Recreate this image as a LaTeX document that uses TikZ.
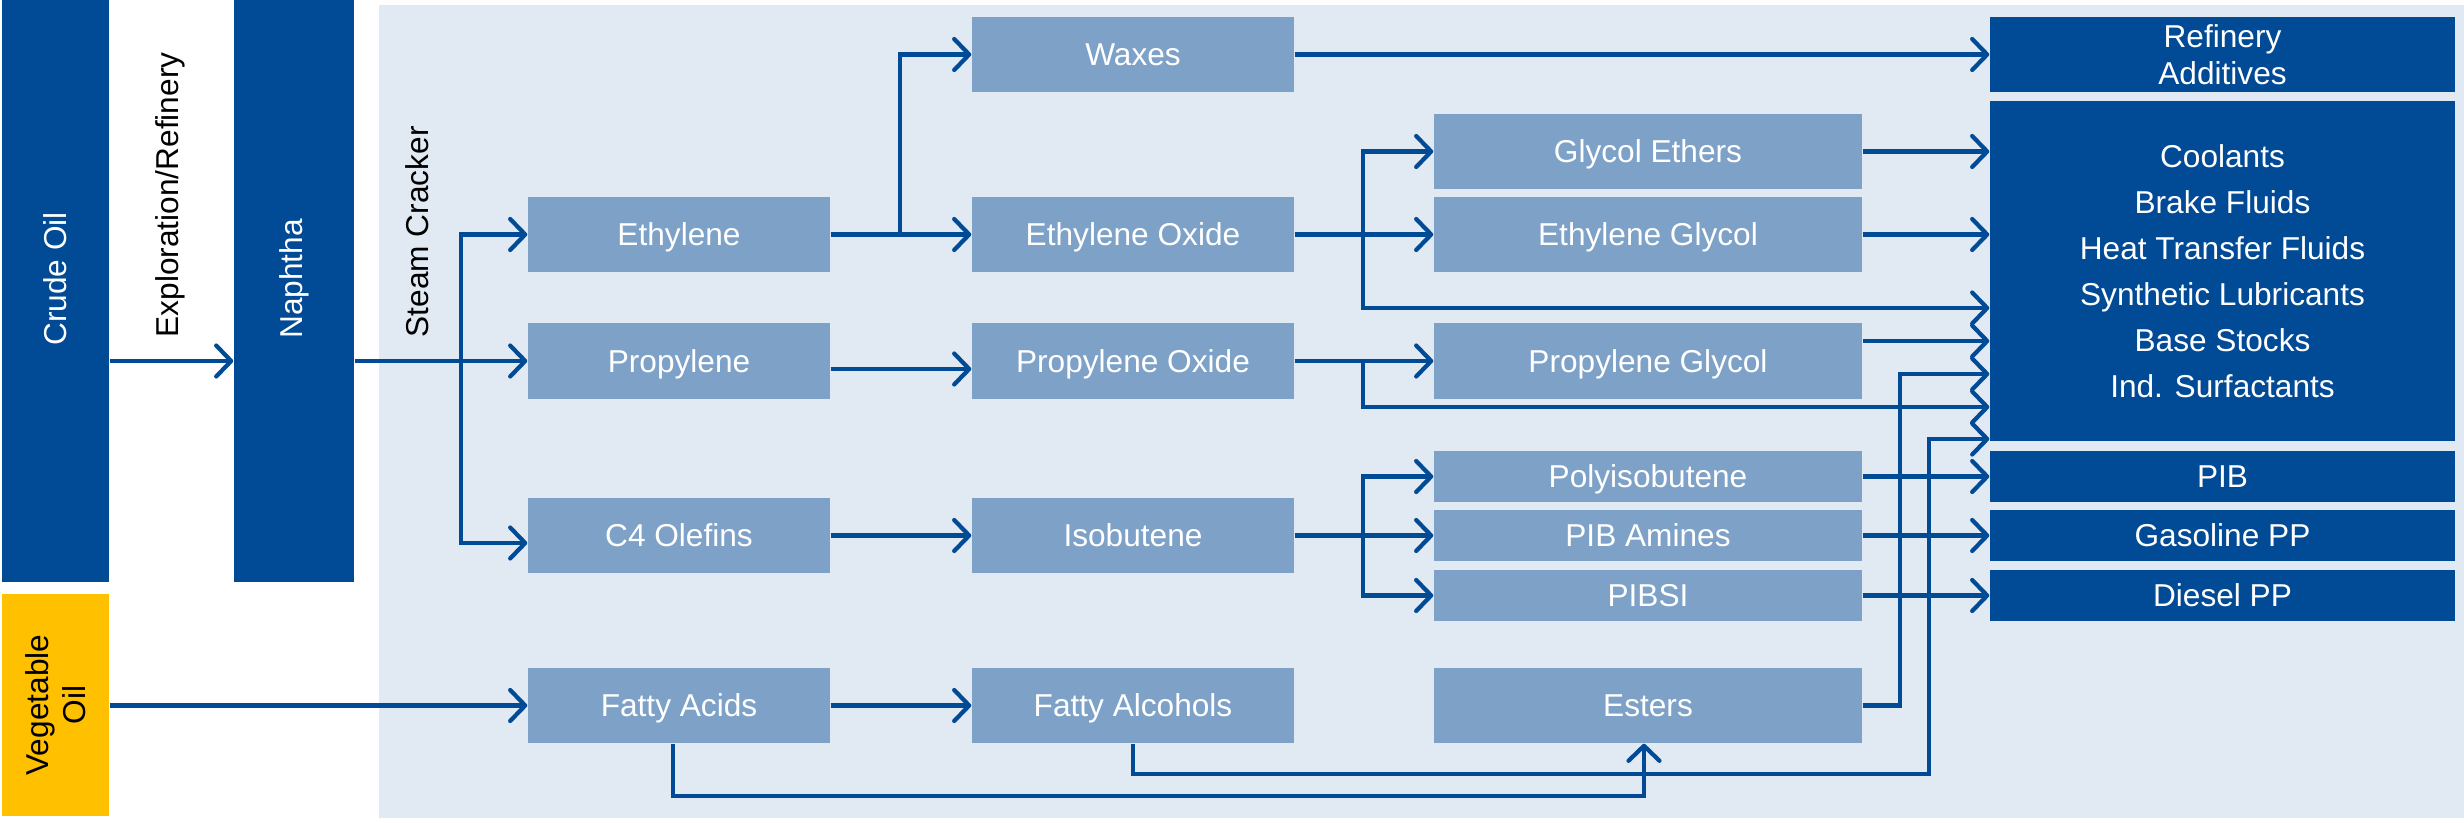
\documentclass[tikz,border=0pt]{standalone}
\usepackage{fontspec}
\setmainfont{Liberation Sans}
\usetikzlibrary{arrows.meta}
\definecolor{basfdark}{RGB}{0,74,150}
\definecolor{basfmid}{RGB}{126,161,199}
\definecolor{basflight}{RGB}{225,233,242}
\definecolor{basfyellow}{RGB}{255,192,0}
\tikzset{
	darkbox/.style={rectangle, fill=basfdark, text=white, inner sep=0, align=center},
	midbox/.style={rectangle, fill=basfmid, text=white, inner sep=0, minimum height=0.75cm, text height=6.4pt, text depth=0pt},
	thinbox/.style={minimum height=0.51cm, text height=6.4pt, text depth=0pt},
	flow/.style={draw=basfdark, line width=1.2pt, -{Straight Barb[round, length=1.5mm, width=3.1mm]}},
	sidetext/.style={rotate=90, anchor=west, inner sep=0}
}

\begin{document}
\begin{tikzpicture}[font=\fontsize{9pt}{10.5pt}\selectfont]
			%%%%% START %%%%%
			\useasboundingbox (0, 0) rectangle (24.64, 8.22);
			
			\fill[basflight] (3.79, 0.04) rectangle (24.64, 8.17);
			
			\node[darkbox, minimum width=1.07cm, minimum height=5.82cm] (crude) at (0.555, 5.31) {};
			\node[text=white, rotate=90] (crudelabel) at (0.555, 5.43) {Crude Oil};
			\node[rectangle, fill=basfyellow, inner sep=0, minimum width=1.07cm, minimum height=2.22cm] (veg) at (0.555, 1.17) {};
			\node[rotate=90, align=center, inner sep=0] (veglabel) at (veg.center) {Vegetable\\Oil};
			\node[darkbox, minimum width=1.20cm, minimum height=5.82cm] (naphtha) at (2.94, 5.31) {};
			\node[text=white, rotate=90] (naphthalabel) at (2.94, 5.43) {Naphtha};
			
			\node[sidetext] (explore) at (1.705, 4.84) {Exploration/Refinery};
			\node[sidetext] (cracker) at (4.17, 4.84) {Steam Cracker};
			
			\node[midbox, minimum width=3.02cm] (ethylene) at (6.79, 5.875) {Ethylene};
			\node[midbox, minimum width=3.02cm] (propylene) at (6.79, 4.61) {Propylene};
			\node[midbox, minimum width=3.02cm] (olefins) at (6.79, 2.865) {C4 Olefins};
			\node[midbox, minimum width=3.02cm] (facids) at (6.79, 1.165) {Fatty Acids};
			
			\node[midbox, minimum width=3.22cm] (waxes) at (11.33, 7.675) {Waxes};
			\node[midbox, minimum width=3.22cm] (eoxide) at (11.33, 5.875) {Ethylene Oxide};
			\node[midbox, minimum width=3.22cm] (poxide) at (11.33, 4.61) {Propylene Oxide};
			\node[midbox, minimum width=3.22cm] (isobutene) at (11.33, 2.865) {Isobutene};
			\node[midbox, minimum width=3.22cm] (falcohols) at (11.33, 1.165) {Fatty Alcohols};
			
			\node[midbox, minimum width=4.28cm] (gethers) at (16.48, 6.705) {Glycol Ethers};
			\node[midbox, minimum width=4.28cm] (eglycol) at (16.48, 5.875) {Ethylene Glycol};
			\node[midbox, minimum width=4.28cm] (pglycol) at (16.48, 4.61) {Propylene Glycol};
			\node[midbox, thinbox, minimum width=4.28cm] (polyiso) at (16.48, 3.455) {Polyisobutene};
			\node[midbox, thinbox, minimum width=4.28cm] (pibamines) at (16.48, 2.865) {PIB Amines};
			\node[midbox, thinbox, minimum width=4.28cm] (pibsi) at (16.48, 2.265) {PIBSI};
			\node[midbox, minimum width=4.28cm] (esters) at (16.48, 1.165) {Esters};
			
			\node[darkbox, minimum width=4.65cm, minimum height=0.75cm] (refadd) at (22.225, 7.675) {Refinery\\Additives};
			\node[darkbox, minimum width=4.65cm, minimum height=3.40cm, font=\fontsize{9pt}{13.1pt}\selectfont] (markets) at (22.225, 5.51) {Coolants\\Brake Fluids\\Heat Transfer Fluids\\Synthetic Lubricants\\Base Stocks\\Ind. Surfactants};
			\node[darkbox, thinbox, minimum width=4.65cm] (pib) at (22.225, 3.455) {PIB};
			\node[darkbox, thinbox, minimum width=4.65cm] (gasoline) at (22.225, 2.865) {Gasoline PP};
			\node[darkbox, thinbox, minimum width=4.65cm] (diesel) at (22.225, 2.265) {Diesel PP};
			
			\coordinate (crackbus) at (4.61, 0);
			\coordinate (waxbus) at (9.00, 0);
			\coordinate (glycolbus) at (13.63, 0);
			\coordinate (esterbus) at (19.00, 0);
			\coordinate (alcoholbus) at (19.29, 0);
			\coordinate (acidlow) at (0, 0.26);
			\coordinate (alcohollow) at (0, 0.48);
			\coordinate (eoin) at ([yshift=-3.7mm]markets.west);
			\coordinate (pgin) at ([yshift=-7mm]markets.west);
			\coordinate (esin) at ([yshift=-10.3mm]markets.west);
			\coordinate (poin) at ([yshift=-13.6mm]markets.west);
			\coordinate (fain) at ([yshift=-16.8mm]markets.west);
			
			\draw[flow] (crude.east |- propylene) -- (naphtha.west |- propylene);
			\draw[flow] (naphtha.east |- propylene) -- (propylene.west);
			\draw[flow] (crackbus |- propylene) |- (ethylene.west);
			\draw[flow] (crackbus |- propylene) |- ([yshift=-0.75mm]olefins.west);
			\draw[flow] (veg.east |- facids) -- (facids.west);
			
			\draw[flow] (ethylene.east) -- (eoxide.west);
			\draw[flow] (waxbus |- ethylene) |- (waxes.west);
			\draw[flow] ([yshift=-0.8mm]propylene.east) -- ([yshift=-0.8mm]poxide.west);
			\draw[flow] (olefins.east) -- (isobutene.west);
			\draw[flow] (facids.east) -- (falcohols.west);
			
			\draw[flow] (eoxide.east) -- (eglycol.west);
			\draw[flow] (glycolbus |- eoxide) |- (gethers.west);
			\draw[flow] (glycolbus |- eoxide) |- (eoin);
			\draw[flow] (poxide.east) -- (pglycol.west);
			\draw[flow] (glycolbus |- poxide) |- (poin);
			\draw[flow] (isobutene.east) -- (pibamines.west);
			\draw[flow] (glycolbus |- isobutene) |- (polyiso.west);
			\draw[flow] (glycolbus |- isobutene) |- (pibsi.west);
			
			\draw[flow] (waxes.east) -- (refadd.west);
			\draw[flow] (gethers.east) -- (markets.west |- gethers);
			\draw[flow] (eglycol.east) -- (markets.west |- eglycol);
			\draw[flow] (pglycol.east |- pgin) -- (pgin);
			\draw[flow] (polyiso.east) -- (pib.west);
			\draw[flow] (pibamines.east) -- (gasoline.west);
			\draw[flow] (pibsi.east) -- (diesel.west);
			
			\draw[flow] ([xshift=-0.6mm]facids.south) -- ([xshift=-0.6mm]facids.south |- acidlow) -| ([xshift=-0.4mm]esters.south);
			\draw[flow] (falcohols.south) -- (falcohols.south |- alcohollow) -| (alcoholbus |- fain) -- (fain);
			\draw[flow] (esters.east) -| (esterbus |- esin) -- (esin);
			
			%%%%% END %%%%%
		\end{tikzpicture}
\end{document}
